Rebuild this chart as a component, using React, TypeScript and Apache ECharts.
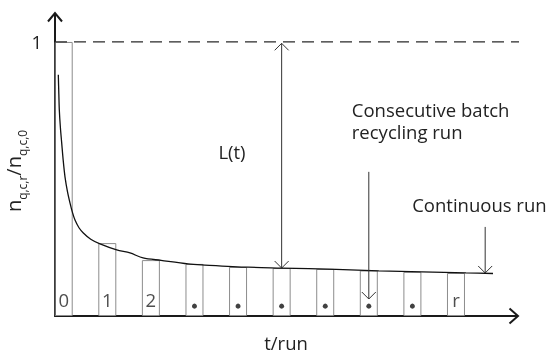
import React, { useEffect, useRef } from 'react';
import * as echarts from 'echarts';

// ---- data ----
const runIndex = [0, 1, 2, 3, 4, 5, 6, 7, 8, 9];
const runLabels = ['0', '1', '2', '•', '•', '•', '•', '•', '•', 'r'];
const batchValues = [1, 0.266, 0.204, 0.19, 0.179, 0.175, 0.172, 0.166, 0.161, 0.157];
const curveX = [-0.124, -0.112, -0.101, -0.075, -0.046, -0.01, 0.03, 0.085, 0.145, 0.2, 0.259, 0.35, 0.45, 0.62, 0.833, 1.216, 1.521, 1.82, 2.233, 2.852, 3.24, 4.23, 5.0, 6.25, 7.23, 8.22, 9.23, 9.85];
const curveY = [0.88, 0.81, 0.752, 0.685, 0.631, 0.565, 0.507, 0.455, 0.412, 0.378, 0.35, 0.322, 0.303, 0.28, 0.263, 0.241, 0.23, 0.212, 0.203, 0.19, 0.186, 0.178, 0.175, 0.17, 0.165, 0.161, 0.157, 0.155];
const yTickLabels = ['1'];
const referenceLevel = 1;
const lossRun = 5; // L(t) arrow position
const lossLevel = 0.175;
const batchArrowX = 7;
const batchArrowFrom = 0.526;
const batchArrowTo = 0.062;
const contArrowX = 9.67;
const contArrowFrom = 0.325;
const contArrowTo = 0.157;
const batchText = ['Consecutive batch', 'recycling run'];
const yAxisTitle = '{n|n}{s|q,c,r}{n|/n}{s|q,c,0}';

const FONT = '"Open Sans", "Noto Sans", sans-serif';
const TXT = '#222';
const FS = 18.5;
const X_MIN = -0.2;
const X_MAX = 10.4;
const Y_MAX = 1.102;

export default function App() {
  const ref = useRef<HTMLDivElement>(null);
  useEffect(() => {
    if (!ref.current) return;
    const chart = echarts.init(ref.current, null, { renderer: 'svg' });
    const option: any = {
      animation: false,
      grid: { left: 55, right: 29, top: 14, bottom: 38, outerBoundsMode: 'none', containLabel: false },
      xAxis: {
        type: 'value',
        min: X_MIN,
        max: X_MAX,
        name: 't/run',
        nameLocation: 'middle',
        nameGap: 17,
        nameTextStyle: { fontFamily: FONT, fontSize: FS, color: TXT, lineHeight: 18 },
        axisLine: { onZero: true, lineStyle: { color: '#1a1a1a', width: 2 } },
        axisTick: { show: false },
        axisLabel: { show: false },
        splitLine: { show: false },
      },
      yAxis: {
        type: 'value',
        min: 0,
        max: Y_MAX,
        interval: 1,
        axisLine: { show: true, onZero: false, lineStyle: { color: '#1a1a1a', width: 2 } },
        axisTick: { show: false },
        axisLabel: {
          fontFamily: FONT,
          fontSize: FS,
          color: TXT,
          margin: 13,
          formatter: (v: number) => (v === 1 ? yTickLabels[0] : ''),
        },
        splitLine: { show: false },
      },
      series: [
        {
          type: 'bar',
          barWidth: 18,
          data: runIndex.map((r, i) => [r, batchValues[i]]),
          itemStyle: { color: 'rgba(0,0,0,0)', borderColor: '#8c8c8c', borderWidth: 1 },
          silent: true,
        },
        {
          type: 'line',
          data: [[X_MIN, referenceLevel], [11.07, referenceLevel]],
          clip: false,
          symbol: 'none',
          lineStyle: { color: '#2a2a2a', width: 1.2, type: [12, 7] },
        },
        {
          type: 'line',
          data: curveX.map((x, i) => [x, curveY[i]]),
          symbol: 'none',
          smooth: 0.3,
          lineStyle: { color: '#111', width: 1.3 },
        },
        {
          type: 'scatter',
          symbolSize: 0,
          data: runIndex.filter((_, i) => runLabels[i] !== '•').map((r) => [r, 0.062, runLabels[r]]),
          label: {
            show: true,
            position: 'inside',
            fontFamily: FONT,
            fontSize: FS,
            color: TXT,
            formatter: (p: any) => p.value[2],
          },
        },
        {
          type: 'scatter',
          symbol: 'circle',
          symbolSize: 5,
          itemStyle: { color: '#111' },
          data: runIndex.filter((_, i) => runLabels[i] === '•').map((r) => [r, 0.036]),
        },
        {
          type: 'line',
          data: [[lossRun, referenceLevel - 0.005], [lossRun, lossLevel]],
          symbol: 'none',
          lineStyle: { color: '#333', width: 1 },
        },
        {
          type: 'line',
          data: [[batchArrowX, batchArrowFrom], [batchArrowX, batchArrowTo]],
          symbol: 'none',
          lineStyle: { color: '#333', width: 1 },
        },
        {
          type: 'line',
          data: [[contArrowX, contArrowFrom], [contArrowX, contArrowTo]],
          symbol: 'none',
          lineStyle: { color: '#333', width: 1 },
        },
      ],
    };
    chart.setOption(option);

    const px = (x: number, y: number) => chart.convertToPixel({ gridIndex: 0 }, [x, y]) as number[];
    const head = (tip: number[], dir: 'up' | 'down' | 'right', a: number, b: number, w: number, color: string) => {
      const [tx, ty] = tip;
      let pts: number[][];
      if (dir === 'up') pts = [[tx - a, ty + b], [tx, ty], [tx + a, ty + b]];
      else if (dir === 'down') pts = [[tx - a, ty - b], [tx, ty], [tx + a, ty - b]];
      else pts = [[tx - b, ty - a], [tx, ty], [tx - b, ty + a]];
      return { type: 'polyline', shape: { points: pts }, style: { stroke: color, lineWidth: w, fill: null }, silent: true };
    };
    const yTop = px(X_MIN, Y_MAX);
    const xEnd = px(X_MAX, 0);
    const lTop = px(lossRun, referenceLevel - 0.005);
    const lBot = px(lossRun, lossLevel);
    const bBot = px(batchArrowX, batchArrowTo);
    const cBot = px(contArrowX, contArrowTo);
    const batchTop = px(batchArrowX, batchArrowFrom);
    const contTop = px(contArrowX, contArrowFrom);
    const lMid = px(3.86, 0.6);

    const txt = (text: string, x: number, y: number, align: string) => ({
      type: 'text',
      x,
      y,
      style: { text, fontFamily: FONT, fontSize: FS, lineHeight: 21, fill: TXT, align, verticalAlign: 'middle' },
    });

    chart.setOption({
      graphic: [
        head([yTop[0], yTop[1] - 1], 'up', 7, 8.5, 2, '#1a1a1a'),
        head([xEnd[0] + 1, xEnd[1]], 'right', 7.5, 8.5, 2, '#1a1a1a'),
        head(lTop, 'up', 7, 7, 1, '#333'),
        head(lBot, 'down', 7, 7, 1, '#333'),
        head(bBot, 'down', 7, 7, 1, '#333'),
        head(cBot, 'down', 7, 7, 1, '#333'),
        {
          type: 'text',
          x: 18,
          y: 171,
          rotation: Math.PI / 2,
          style: {
            text: yAxisTitle,
            align: 'center',
            verticalAlign: 'middle',
            rich: {
              n: { fontFamily: FONT, fontSize: 20, fill: TXT, lineHeight: 20, padding: [0, 0, 9, 0] },
              s: { fontFamily: FONT, fontSize: 12, fill: TXT, lineHeight: 20, padding: [9, 0, 0, 0] },
            },
          },
        },
        txt('L(t)', lMid[0], lMid[1], 'center'),
        txt(batchText[0], batchTop[0] - 17, batchTop[1] - 62, 'left'),
        txt(batchText[1], batchTop[0] - 17, batchTop[1] - 40, 'left'),
        txt('Continuous run', contTop[0] - 73, contTop[1] - 22, 'left'),
      ],
    });

    return () => chart.dispose();
  }, []);
  return <div ref={ref} style={{ position: 'fixed', left: 0, top: 0, width: 546, height: 354 }} />;
}
